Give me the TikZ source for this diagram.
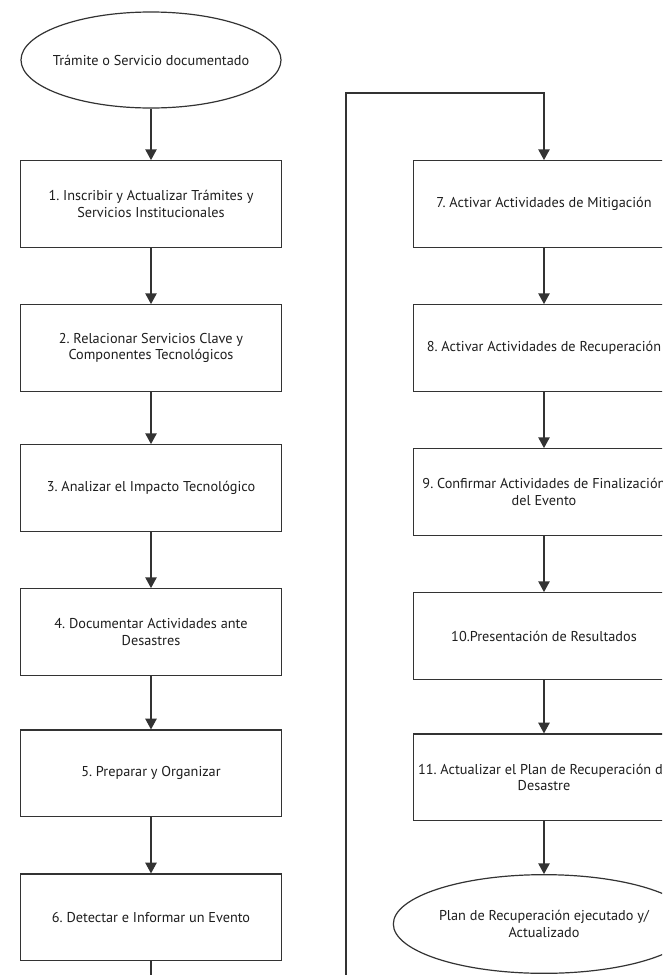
\documentclass[tikz,border=0pt]{standalone}
\usepackage{fontspec}
\setmainfont{PT Sans}
\usepackage{xcolor}
\usepackage{tikz}
\usetikzlibrary{shapes.geometric, arrows.meta, positioning}
\frenchspacing
\definecolor{linegray}{HTML}{333333}
\definecolor{textgray}{HTML}{1E1E1E}
\tikzstyle{startstop} = [ellipse, minimum width=195pt, minimum height=72pt, align=center, draw=linegray, line width=0.9pt, text=textgray, font=\fontsize{10.7}{12.3}\selectfont]
\tikzstyle{process} = [rectangle, minimum width=196pt, minimum height=65pt, align=center, draw=linegray, line width=0.9pt, text=textgray, font=\fontsize{10.7}{12.3}\selectfont]
\tikzstyle{arrow} = [line width=0.9pt, draw=linegray, -{Triangle[width=8.5pt,length=8pt]}]

\begin{document}
\begin{tikzpicture}[x=0.75pt, y=-0.75pt, node distance=108pt]
		\useasboundingbox (0,0) rectangle (662,975);
		\fill[white] (0,0) rectangle (662,975);
		\clip (0,0) rectangle (662,975);
		% left column
		\node (start) [startstop,inner xsep=-5pt] at (151,60) {Trámite o Servicio documentado};
		\node (pro1) [process,below of=start] {1. Inscribir y Actualizar Trámites y\\ Servicios Institucionales};
		\node (pro2) [process,below of=pro1] {2. Relacionar Servicios Clave y\\ Componentes Tecnológicos};
		\node (pro3) [process,below of=pro2,yshift=3pt] {3. Analizar el Impacto Tecnológico};
		\node (pro4) [process,below of=pro3] {4. Documentar Actividades ante\\ Desastres};
		\node (pro5) [process,below of=pro4,yshift=2pt] {5. Preparar y Organizar};
		\node (pro6) [process,below of=pro5] {6. Detectar e Informar un Evento};
		% right column
		\node (pro7) [process] at (544,204) {7. Activar Actividades de Mitigación};
		\node (pro8) [process,below of=pro7] {8. Activar Actividades de Recuperación};
		\node (pro9) [process,below of=pro8] {9. Confirmar Actividades de Finalización\\ del Evento};
		\node (pro10) [process,below of=pro9] {10.Presentación de Resultados};
		\node (pro11) [process,below of=pro10,yshift=2pt] {11. Actualizar el Plan de Recuperación de\\ Desastre};
		\node (stop) [startstop,below of=pro11,yshift=-2pt,inner xsep=0pt,minimum width=226pt,minimum height=74pt] {Plan de Recuperación ejecutado y/\\ Actualizado};
		% loop back
		\coordinate (under) at (346,1000);
		\coordinate (turn) at (346,93);
		\draw [arrow] (start) -- (pro1);
		\draw [arrow] (pro1) -- (pro2);
		\draw [arrow] (pro2) -- (pro3);
		\draw [arrow] (pro3) -- (pro4);
		\draw [arrow] (pro4) -- (pro5);
		\draw [arrow] (pro5) -- (pro6);
		\draw [arrow] (pro6) |- (under) -- (turn) -| (pro7);
		\draw [arrow] (pro7) -- (pro8);
		\draw [arrow] (pro8) -- (pro9);
		\draw [arrow] (pro9) -- (pro10);
		\draw [arrow] (pro10) -- (pro11);
		\draw [arrow] (pro11) -- (stop);
	\end{tikzpicture}
\end{document}
